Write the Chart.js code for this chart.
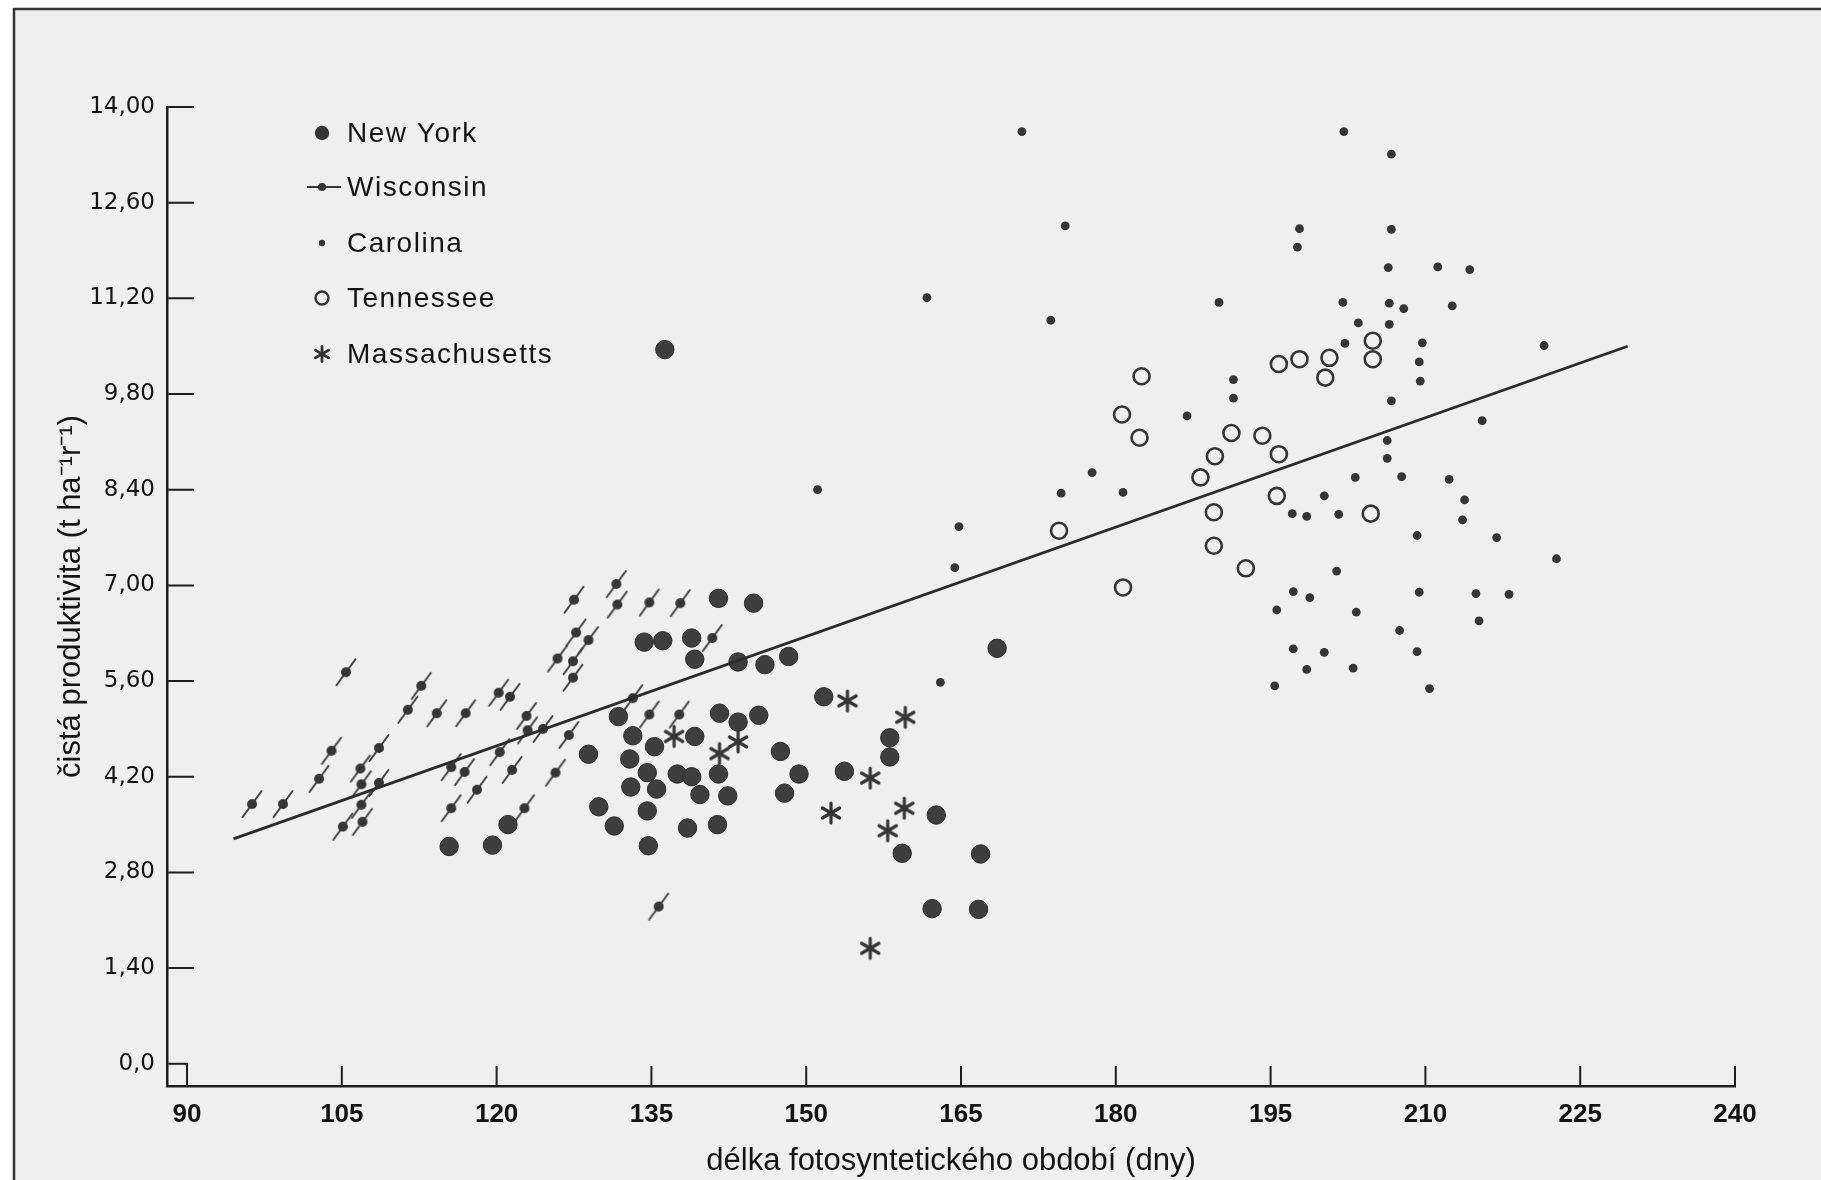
<!DOCTYPE html>
<html>
<head>
<meta charset="utf-8">
<title>Čistá produktivita</title>
<script src="https://cdn.jsdelivr.net/npm/chart.js@4.4.0/dist/chart.umd.min.js"></script>
<style>
  html, body { margin: 0; padding: 0; background: #fff; }
  #wrap { position: relative; width: 1821px; height: 1180px; }
</style>
</head>
<body>
<div id="wrap"><canvas id="chart"></canvas></div>
<script>
// osy
const xTicks = [90, 105, 120, 135, 150, 165, 180, 195, 210, 225, 240];
const yTicks = [0, 1.4, 2.8, 4.2, 5.6, 7, 8.4, 9.8, 11.2, 12.6, 14];
const yTickLabels = ['0,0', '1,40', '2,80', '4,20', '5,60', '7,00', '8,40', '9,80', '11,20', '12,60', '14,00'];
const xTitle = 'délka fotosyntetického období (dny)';
const yTitle = 'čistá produktivita (t ha\u207B\u00B9r\u207B\u00B9)';
const seriesNames = ['New York', 'Wisconsin', 'Carolina', 'Tennessee', 'Massachusetts'];

// data [dny, t/ha/rok]
const newYork = [
  [115.4, 3.18], [119.6, 3.20], [121.1, 3.50], [128.9, 4.53], [129.9, 3.76], [131.4, 3.48],
  [131.8, 5.08], [133.2, 4.80], [132.9, 4.46], [133.0, 4.05], [134.3, 6.17], [136.1, 6.19],
  [138.9, 6.23], [139.2, 5.92], [141.5, 6.81], [144.9, 6.74], [143.4, 5.88], [146.0, 5.84],
  [148.3, 5.96], [168.5, 6.08], [151.7, 5.37], [135.3, 4.64], [134.6, 4.26], [135.5, 4.02],
  [134.6, 3.70], [134.7, 3.19], [141.6, 5.13], [143.4, 5.00], [145.4, 5.10], [139.2, 4.79],
  [137.5, 4.24], [138.9, 4.20], [141.5, 4.24], [139.7, 3.94], [142.4, 3.92], [138.5, 3.45],
  [141.4, 3.50], [147.5, 4.57], [149.3, 4.24], [147.9, 3.96], [153.7, 4.28], [158.1, 4.77],
  [158.1, 4.49], [162.6, 3.64], [159.3, 3.08], [166.9, 3.07], [162.2, 2.27], [166.7, 2.26],
  [136.3, 10.45]
];
const wisconsin = [
  [96.3, 3.80], [99.3, 3.80], [105.4, 5.73], [104.0, 4.58], [102.8, 4.17], [108.6, 4.62],
  [106.8, 4.32], [106.9, 4.09], [108.6, 4.11], [106.9, 3.79], [107.0, 3.54], [105.1, 3.47],
  [112.7, 5.53], [111.4, 5.18], [114.2, 5.13], [117.0, 5.13], [120.2, 5.43], [121.3, 5.37],
  [122.9, 5.09], [123.0, 4.88], [124.5, 4.90], [127.0, 4.81], [120.3, 4.56], [121.5, 4.30],
  [125.7, 4.26], [115.6, 4.34], [116.9, 4.27], [118.1, 4.01], [115.6, 3.74], [122.7, 3.74],
  [127.5, 6.79], [131.6, 7.02], [131.7, 6.72], [127.7, 6.31], [128.9, 6.20], [125.9, 5.93],
  [127.4, 5.89], [127.4, 5.65], [133.2, 5.35], [134.8, 6.75], [137.8, 6.74], [140.9, 6.23],
  [134.8, 5.11], [137.7, 5.11], [135.7, 2.30]
];
const carolina = [
  [170.9, 13.64], [175.1, 12.26], [161.7, 11.21], [173.7, 10.88], [151.1, 8.40], [164.8, 7.86],
  [164.4, 7.26], [174.7, 8.35], [163.0, 5.58], [202.1, 13.64], [206.7, 13.31], [197.8, 12.22],
  [197.6, 11.95], [206.7, 12.21], [190.0, 11.14], [206.4, 11.65], [211.2, 11.66], [214.3, 11.62],
  [202.0, 11.14], [206.5, 11.13], [207.9, 11.05], [212.6, 11.09], [203.5, 10.84], [206.5, 10.82],
  [202.2, 10.54], [209.7, 10.55], [209.4, 10.27], [209.5, 9.99], [221.5, 10.51], [191.4, 10.01],
  [191.4, 9.74], [186.9, 9.48], [206.7, 9.70], [215.5, 9.41], [206.3, 9.12], [206.3, 8.86],
  [177.7, 8.65], [180.7, 8.36], [203.2, 8.58], [207.7, 8.59], [212.3, 8.55], [213.8, 8.25],
  [213.6, 7.96], [200.2, 8.31], [197.1, 8.05], [198.5, 8.01], [201.6, 8.04], [209.2, 7.73],
  [216.9, 7.70], [222.7, 7.39], [201.4, 7.21], [197.2, 6.91], [198.8, 6.82], [195.6, 6.64],
  [203.3, 6.61], [209.4, 6.90], [214.9, 6.88], [218.1, 6.87], [215.2, 6.48], [207.5, 6.34],
  [197.2, 6.07], [200.2, 6.02], [209.2, 6.03], [198.5, 5.77], [203.0, 5.79], [195.4, 5.53],
  [210.4, 5.49]
];
const tennessee = [
  [182.5, 10.06], [180.6, 9.50], [182.3, 9.16], [174.5, 7.80], [180.7, 6.97], [188.2, 8.58],
  [189.6, 8.89], [189.5, 8.07], [189.5, 7.58], [191.2, 9.23], [194.2, 9.19], [195.8, 8.92],
  [195.6, 8.31], [192.6, 7.25], [195.8, 10.24], [197.8, 10.31], [200.7, 10.33], [200.3, 10.04],
  [204.9, 10.58], [204.9, 10.31], [204.7, 8.05]
];
const massachusetts = [
  [154.0, 5.31], [159.6, 5.07], [137.2, 4.79], [143.4, 4.71], [141.6, 4.54], [156.2, 4.18],
  [152.4, 3.67], [159.5, 3.74], [157.9, 3.41], [156.2, 1.69]
];
// regresni primka
const trend = [[94.5, 3.29], [229.6, 10.50]];

const toPts = arr => arr.map(p => ({ x: p[0], y: p[1] }));
const ink = '#353535';

// znacky
function slashDot() {
  const c = document.createElement('canvas');
  c.width = 32; c.height = 36;
  const g = c.getContext('2d');
  g.strokeStyle = '#3e3e3e';
  g.lineWidth = 2;
  g.lineCap = 'round';
  g.beginPath(); g.moveTo(6.5, 31); g.lineTo(25.5, 5); g.stroke();
  g.fillStyle = ink;
  g.beginPath(); g.arc(16, 18, 5, 0, Math.PI * 2); g.fill();
  return c;
}

function drawStar(g, cx, cy, r, lw) {
  g.save();
  g.strokeStyle = ink;
  g.lineWidth = lw;
  g.lineCap = 'round';
  for (let a = 90; a < 270; a += 60) {
    const t = a * Math.PI / 180;
    g.beginPath();
    g.moveTo(cx + Math.cos(t) * r, cy - Math.sin(t) * r);
    g.lineTo(cx - Math.cos(t) * r, cy + Math.sin(t) * r);
    g.stroke();
  }
  g.restore();
}

function starMark() {
  const c = document.createElement('canvas');
  c.width = 26; c.height = 26;
  drawStar(c.getContext('2d'), 13, 13, 10, 3.2);
  return c;
}

// pozadi skenu + ramecek
const paperPlugin = {
  id: 'paper',
  beforeDraw(chart) {
    const ctx = chart.ctx;
    ctx.save();
    ctx.fillStyle = '#ffffff';
    ctx.fillRect(0, 0, chart.width, chart.height);
    ctx.fillStyle = '#efefef';
    ctx.fillRect(14, 9, chart.width, chart.height);
    ctx.strokeStyle = '#353535';
    ctx.lineWidth = 2.5;
    ctx.beginPath();
    ctx.moveTo(14, chart.height);
    ctx.lineTo(14, 9);
    ctx.lineTo(chart.width, 9);
    ctx.stroke();
    ctx.restore();
  }
};

// znacky os smerem dovnitr a ctverecek u pocatku
const innerTicksPlugin = {
  id: 'innerTicks',
  afterDraw(chart) {
    const { ctx, chartArea, scales } = chart;
    const xs = scales.x, ys = scales.y;
    ctx.save();
    ctx.strokeStyle = '#1e1e1e';
    ctx.lineWidth = 2;
    ctx.beginPath();
    yTicks.forEach(v => {
      if (v === 0) return;
      const py = ys.getPixelForValue(v);
      ctx.moveTo(chartArea.left, py);
      ctx.lineTo(chartArea.left + 27, py);
    });
    xTicks.forEach(v => {
      if (v === 90) return;
      const px = xs.getPixelForValue(v);
      ctx.moveTo(px, chartArea.bottom);
      ctx.lineTo(px, chartArea.bottom - 20);
    });
    ctx.stroke();
    const x90 = xs.getPixelForValue(90);
    const y0 = ys.getPixelForValue(0);
    ctx.strokeRect(chartArea.left, y0, x90 - chartArea.left, chartArea.bottom - y0);
    ctx.restore();
  }
};

// legenda v levem hornim rohu
const cornerLegend = {
  id: 'cornerLegend',
  afterDraw(chart) {
    const ctx = chart.ctx;
    const sx = 322, tx = 347;
    const rows = [133, 187, 243, 298, 354];
    ctx.save();
    ctx.fillStyle = ink;
    ctx.strokeStyle = ink;
    // New York
    ctx.beginPath(); ctx.arc(sx, rows[0], 7.2, 0, Math.PI * 2); ctx.fill();
    // Wisconsin
    ctx.lineWidth = 2;
    ctx.beginPath(); ctx.moveTo(307, rows[1]); ctx.lineTo(341, rows[1]); ctx.stroke();
    ctx.beginPath(); ctx.arc(sx, rows[1], 4, 0, Math.PI * 2); ctx.fill();
    // Carolina
    ctx.beginPath(); ctx.arc(sx, rows[2], 3.2, 0, Math.PI * 2); ctx.fill();
    // Tennessee
    ctx.lineWidth = 2.4;
    ctx.beginPath(); ctx.arc(sx, rows[3], 6.5, 0, Math.PI * 2); ctx.stroke();
    // Massachusetts
    drawStar(ctx, sx, rows[4], 7.5, 2.8);

    ctx.fillStyle = '#141414';
    ctx.font = '28px "Liberation Sans", Arial, sans-serif';
    ctx.textBaseline = 'middle';
    ctx.textAlign = 'left';
    ctx.letterSpacing = '1.5px';
    seriesNames.forEach((name, i) => ctx.fillText(name, tx, rows[i] + 1));
    ctx.restore();
  }
};

new Chart(document.getElementById('chart'), {
  type: 'scatter',
  data: {
    datasets: [
      {
        label: 'trend',
        data: toPts(trend),
        showLine: true,
        borderColor: '#2b2b2b',
        borderWidth: 2.8,
        pointRadius: 0,
        fill: false
      },
      {
        label: seriesNames[0],
        data: toPts(newYork),
        pointStyle: 'circle',
        pointRadius: 9.2,
        backgroundColor: '#3e3e3e',
        borderColor: '#2c2c2c',
        borderWidth: 1
      },
      {
        label: seriesNames[1],
        data: toPts(wisconsin),
        pointStyle: slashDot(),
        pointRadius: 5
      },
      {
        label: seriesNames[2],
        data: toPts(carolina),
        pointStyle: 'circle',
        pointRadius: 4.4,
        backgroundColor: ink,
        borderColor: ink,
        borderWidth: 0
      },
      {
        label: seriesNames[3],
        data: toPts(tennessee),
        pointStyle: 'circle',
        pointRadius: 8,
        backgroundColor: 'rgba(0,0,0,0)',
        borderColor: '#353535',
        borderWidth: 2.6
      },
      {
        label: seriesNames[4],
        data: toPts(massachusetts),
        pointStyle: starMark(),
        pointRadius: 5
      }
    ]
  },
  options: {
    responsive: true,
    maintainAspectRatio: false,
    animation: false,
    events: [],
    layout: { padding: { top: 107, right: 86, left: 0, bottom: 0 } },
    plugins: {
      legend: { display: false },
      tooltip: { enabled: false }
    },
    scales: {
      x: {
        type: 'linear',
        position: 'bottom',
        min: 88.06,
        max: 240,
        afterBuildTicks: s => { s.ticks = xTicks.map(v => ({ value: v })); },
        afterFit: s => { s.height = 94; },
        grid: { display: false, drawTicks: false },
        border: { display: true, color: '#1e1e1e', width: 2.5 },
        ticks: {
          autoSkip: false,
          maxRotation: 0,
          padding: 13,
          color: '#141414',
          font: { family: '"Liberation Sans", Arial, sans-serif', size: 26, weight: 'bold' },
          callback: v => String(v)
        },
        title: {
          display: true,
          text: xTitle,
          color: '#141414',
          font: { family: '"Liberation Sans", Arial, sans-serif', size: 31 },
          padding: { top: 0, bottom: 0 }
        }
      },
      y: {
        type: 'linear',
        position: 'left',
        min: -0.325,
        max: 14,
        afterBuildTicks: s => { s.ticks = yTicks.map(v => ({ value: v })); },
        afterFit: s => { s.width = 167; },
        grid: { display: false, drawTicks: false },
        border: { display: true, color: '#1e1e1e', width: 2.5 },
        ticks: {
          autoSkip: false,
          padding: 12,
          color: '#141414',
          font: { family: '"DejaVu Sans", sans-serif', size: 23 },
          callback: (v, i) => yTickLabels[i]
        },
        title: {
          display: true,
          text: yTitle,
          color: '#141414',
          font: { family: '"Liberation Sans", Arial, sans-serif', size: 31 },
          padding: { top: 53, bottom: 0 }
        }
      }
    }
  },
  plugins: [paperPlugin, innerTicksPlugin, cornerLegend]
});
</script>
</body>
</html>
